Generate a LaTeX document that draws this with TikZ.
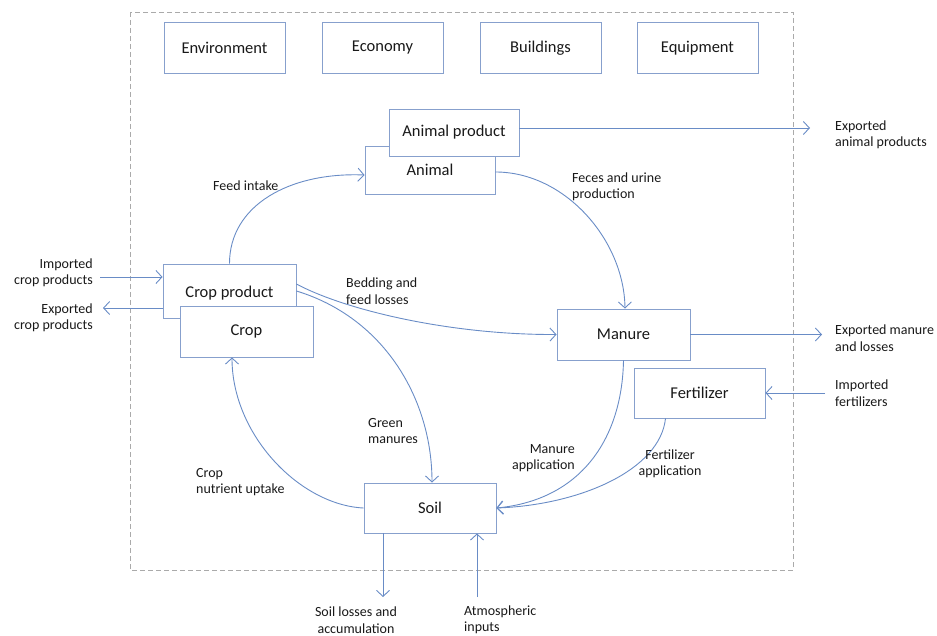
\documentclass[tikz,border=0pt]{standalone}
\usepackage{fontspec}
\setmainfont{Carlito}
\usetikzlibrary{arrows.meta,calc}
\definecolor{lineblue}{RGB}{105,140,198}
\definecolor{boxblue}{RGB}{135,160,205}
\definecolor{framegray}{RGB}{170,170,170}
\definecolor{txt}{RGB}{25,25,25}
\begin{document}
\begin{tikzpicture}[x=1pt,y=-1pt,
  box/.style={draw=boxblue,fill=white,line width=0.9pt,inner sep=0pt,text=txt,
    font=\fontsize{16.5}{18}\selectfont},
  topbox/.style={box,minimum width=121pt,minimum height=51pt},
  lbl/.style={text=txt,font=\fontsize{14}{16.5}\selectfont,inner sep=0pt},
  flow/.style={draw=lineblue,line width=0.9pt,-{Straight Barb[length=6pt,width=13pt,line width=0.9pt]}}]
\useasboundingbox (0,0) rectangle (937,636);
\draw[framegray,line width=0.7pt,dash pattern=on 5pt off 3pt] (130,12) rectangle (793,570);

% top boxes
\node[topbox] (env) at (224.5,48) {Environment};
\node[topbox] (econ) at (382.5,48) {Economy};
\node[topbox] (build) at (540.5,48) {Buildings};
\node[topbox] (equip) at (697.5,48) {Equipment};

% main boxes
\node[box,minimum width=130pt,minimum height=48pt] (animal) at (430,170) {Animal};
\node[box,minimum width=130pt,minimum height=47pt] (animalprod) at (454,132.5) {Animal product};
\node[box,minimum width=133pt,minimum height=54pt] (cropprod) at (229.5,291) {};
\node[lbl,font=\fontsize{16.5}{18}\selectfont] at (229.5,293) {Crop product};
\node[box,minimum width=133pt,minimum height=51pt] (crop) at (246.5,331.5) {Crop};
\node[box,minimum width=133pt,minimum height=51pt] (manure) at (623.5,334.5) {Manure};
\node[box,minimum width=131pt,minimum height=50pt] (fert) at (699.5,393) {Fertilizer};
\node[box,minimum width=132pt,minimum height=50pt] (soil) at (430,508) {Soil};

% free ends
\coordinate (expanim) at (810,128);
\coordinate (expman) at (822,334.5);
\coordinate (impfert) at (825,393);
\coordinate (impcrop) at (100,277);
\coordinate (expcrop) at (103,308);
\coordinate (soilloss) at (383,597);
\coordinate (atmo) at (477,597);

% connectors
\draw[flow] (animalprod.east|-expanim) -- (expanim);
\draw[flow] (manure.east) -- (expman);
\draw[flow] (impfert) -- (fert.east);
\draw[flow] (impcrop) -- (cropprod.west|-impcrop);
\draw[flow] (cropprod.west|-expcrop) -- (expcrop);
\draw[flow] (soil.south-|soilloss) -- (soilloss);
\draw[flow] (atmo) -- (soil.south-|atmo);

\draw[flow] (cropprod.north) .. controls (229.5,205) and (290,172) .. ($(animal.west)+(0,5)$);
\draw[flow] ($(animal.east)+(0,2)$) .. controls (565,172) and (624,240) .. ($(manure.north)+(1.5,0)$);
\draw[flow] ($(cropprod.east)+(0,-7)$) .. controls (345,310) and (450,335) .. (manure.west);
\draw[flow] (cropprod.east) .. controls (385,318) and (432,400) .. ($(soil.north)+(2,0)$);
\draw[flow] (soil.west) .. controls (300,505) and (232,435) .. ($(crop.south)+(-14.5,0)$);
\draw[flow] (manure.south) .. controls (622,440) and (580,500) .. (soil.east);
\draw[flow] ($(fert.south)+(-34,0)$) .. controls (660,470) and (580,505) .. (soil.east);

% labels
\node[lbl,anchor=east,align=right] at (93,273) {Imported\\crop products};
\node[lbl,anchor=east,align=right] at (93,318) {Exported\\crop products};
\node[lbl,anchor=west,align=left] at (835,135) {Exported\\animal products};
\node[lbl,anchor=west,align=left] at (835,338) {Exported manure\\and losses};
\node[lbl,anchor=west,align=left] at (835,393) {Imported\\fertilizers};
\node[lbl,align=center] at (356,620) {Soil losses and\\accumulation};
\node[lbl,anchor=west,align=left] at (464,620) {Atmospheric\\inputs};
\node[lbl,anchor=west] at (213,186) {Feed intake};
\node[lbl,anchor=west,align=left] at (572,187) {Feces and urine\\production};
\node[lbl,anchor=west,align=left] at (346,291) {Bedding and\\feed losses};
\node[lbl,anchor=west,align=left] at (368,431) {Green\\manures};
\node[lbl,anchor=west,align=left] at (196,482) {Crop\\nutrient uptake};
\node[lbl,anchor=east,align=right] at (575,458) {Manure\\application};
\node[lbl,align=center] at (670,464) {Fertilizer\\application};
\end{tikzpicture}
\end{document}
